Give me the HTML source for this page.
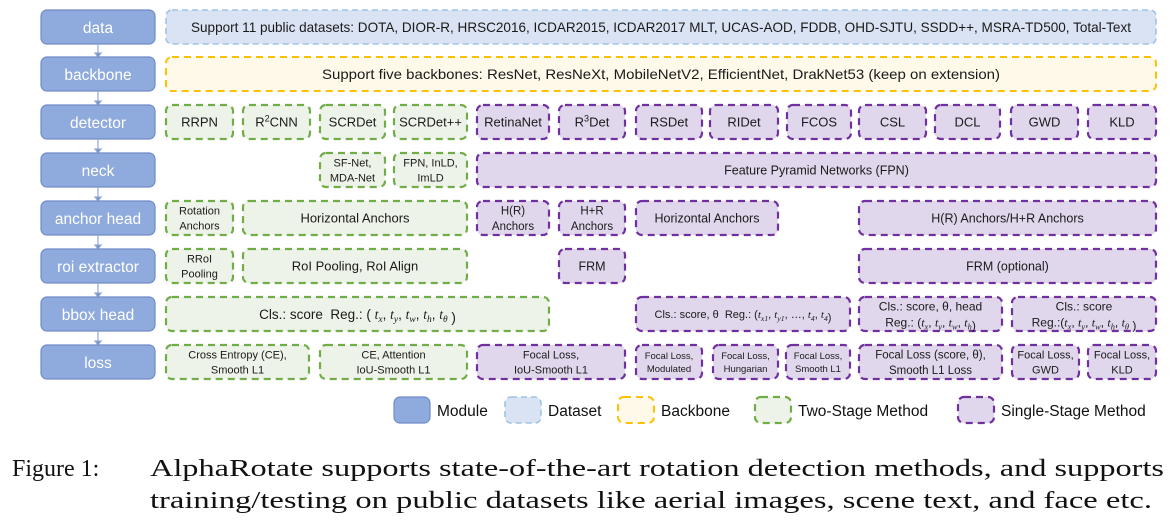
<!DOCTYPE html>
<html><head><meta charset="utf-8">
<style>
html,body{margin:0;padding:0;background:#fff;}
svg{display:block;}
text{font-family:"Liberation Sans",sans-serif;}
.cap{font-family:"Liberation Serif",serif;font-size:24px;fill:#111;}
.m{font-family:"Liberation Serif",serif;font-style:italic;}
</style></head>
<body>
<svg id="fig" width="1174" height="528" viewBox="0 0 1174 528" xmlns="http://www.w3.org/2000/svg">
<text class="cap" x="12" y="476">Figure 1:<tspan x="150" textLength="1014" lengthAdjust="spacingAndGlyphs">AlphaRotate supports state-of-the-art rotation detection methods, and supports</tspan></text>
<text class="cap" x="150" y="508" textLength="1002" lengthAdjust="spacingAndGlyphs">training/testing on public datasets like aerial images, scene text, and face etc.</text>
</svg>
<script>
const NS="http://www.w3.org/2000/svg";
const svg=document.getElementById('fig');
const rowTop=[10,57,105,153,201,249,297,345];
const rowH=34;
const modules=["data","backbone","detector","neck","anchor head","roi extractor","bbox head","loss"];
const styles={
 mod:{fill:"#8faadc",stroke:"#6f8cc4",dash:null,sw:1.2},
 ds:{fill:"#dae3f3",stroke:"#9dc3e6",dash:"6 4",sw:1.6},
 bb:{fill:"#fff9ea",stroke:"#ffc000",dash:"7 5",sw:2},
 g:{fill:"#edf3e8",stroke:"#70ad47",dash:"7 5",sw:2.2},
 p:{fill:"#e0d7ec",stroke:"#7030a0",dash:"7 5",sw:2.2}
};
const S="\u00a0";
function sub(a,b,tail){return '<tspan class="m">'+a+'</tspan><tspan class="m" font-size="70%" dy="3">'+b+'</tspan><tspan dy="-3">'+tail+'</tspan>';}
const tx=sub('t','x',','+S), ty=sub('t','y',','+S), tw=sub('t','w',','+S), th=sub('t','h',''), tth=sub('t','h',','+S), tt=sub('t','θ','');
const boxes=[
 [166,1156,0,"ds",["Support 11 public datasets: DOTA, DIOR-R, HRSC2016, ICDAR2015, ICDAR2017 MLT, UCAS-AOD, FDDB, OHD-SJTU, SSDD++, MSRA-TD500, Total-Text"],14,"dataset-box",940],
 [166,1156,1,"bb",["Support five backbones: ResNet, ResNeXt, MobileNetV2, EfficientNet, DrakNet53 (keep on extension)"],14,"backbone-box",678],
 [166,233,2,"g",["RRPN"],13,"rrpn"],
 [243,310,2,"g",['R<tspan font-size="70%" dy="-5">2</tspan><tspan dy="5">CNN</tspan>'],13,"r2cnn"],
 [320,385,2,"g",["SCRDet"],13,"scrdet"],
 [394,467,2,"g",["SCRDet++"],13,"scrdet-plus"],
 [477,549,2,"p",["RetinaNet"],13,"retinanet"],
 [559,625,2,"p",['R<tspan font-size="70%" dy="-5">3</tspan><tspan dy="5">Det</tspan>'],13,"r3det"],
 [636,702,2,"p",["RSDet"],13,"rsdet"],
 [710,778,2,"p",["RIDet"],13,"ridet"],
 [787,851,2,"p",["FCOS"],13,"fcos"],
 [859,926,2,"p",["CSL"],13,"csl"],
 [935,1000,2,"p",["DCL"],13,"dcl"],
 [1011,1078,2,"p",["GWD"],13,"gwd"],
 [1088,1156,2,"p",["KLD"],13,"kld"],
 [320,385,3,"g",["SF-Net,","MDA-Net"],11,"sf-net"],
 [394,467,3,"g",["FPN, InLD,","ImLD"],11,"fpn-inld"],
 [477,1156,3,"p",["Feature Pyramid Networks (FPN)"],12.5,"fpn-neck"],
 [166,233,4,"g",["Rotation","Anchors"],11,"rotation-anchors"],
 [243,467,4,"g",["Horizontal Anchors"],13,"horizontal-anchors-two-stage"],
 [477,549,4,"p",["H(R)","Anchors"],11.5,"hr-anchors"],
 [559,625,4,"p",["H+R","Anchors"],11.5,"h-plus-r-anchors"],
 [636,778,4,"p",["Horizontal Anchors"],12.5,"horizontal-anchors-single"],
 [859,1156,4,"p",["H(R) Anchors/H+R Anchors"],12.5,"hr-hplusr-anchors"],
 [166,233,5,"g",["RRoI","Pooling"],11,"rroi-pooling"],
 [243,467,5,"g",["RoI Pooling, RoI Align"],13,"roi-pooling-align"],
 [559,625,5,"p",["FRM"],12.5,"frm"],
 [859,1156,5,"p",["FRM (optional)"],12.5,"frm-optional"],
 [166,549,6,"g",["Cls.: score"+S+S+"Reg.: ("+S+tx+ty+tw+tth+tt+S+")"],13.5,"bbox-head-two-stage"],
 [636,850,6,"p",["Cls.: score, θ"+S+S+"Reg.: ("+sub('t','x1',','+S)+sub('t','y1',','+S+'…,'+S)+sub('t','4',','+S)+sub('t','4','')+")"],11,"bbox-head-quad"],
 [859,1002,6,"p",["Cls.: score, θ, head","Reg.: ("+tx+ty+tw+th+")"],12,"bbox-head-csl"],
 [1012,1156,6,"p",["Cls.: score","Reg.:("+tx+ty+tw+tth+tt+S+")"],12,"bbox-head-gwd"],
 [166,309,7,"g",["Cross Entropy (CE),","Smooth L1"],11,"loss-ce"],
 [320,467,7,"g",["CE, Attention","IoU-Smooth L1"],11,"loss-ce-attention"],
 [477,625,7,"p",["Focal Loss,","IoU-Smooth L1"],11,"loss-focal-iou"],
 [636,702,7,"p",["Focal Loss,","Modulated"],9.5,"loss-modulated"],
 [713,778,7,"p",["Focal Loss,","Hungarian"],9.5,"loss-hungarian"],
 [786,850,7,"p",["Focal Loss,","Smooth L1"],9.5,"loss-smooth"],
 [859,1002,7,"p",["Focal Loss (score, θ),","Smooth L1 Loss"],11.5,"loss-focal-score"],
 [1012,1079,7,"p",["Focal Loss,","GWD"],11,"loss-gwd"],
 [1088,1156,7,"p",["Focal Loss,","KLD"],11,"loss-kld"]
];
const legend=[[394,"mod","Module"],[505,"ds","Dataset"],[618,"bb","Backbone"],[755,"g","Two-Stage Method"],[958,"p","Single-Stage Method"]];

function rect(x,y,w,h,st){
 const r=document.createElementNS(NS,'rect');
 r.setAttribute('x',x);r.setAttribute('y',y);r.setAttribute('width',w);r.setAttribute('height',h);
 r.setAttribute('rx',6);r.setAttribute('fill',st.fill);r.setAttribute('stroke',st.stroke);r.setAttribute('stroke-width',st.sw);
 if(st.dash) r.setAttribute('stroke-dasharray',st.dash);
 return r;
}
modules.forEach((m,i)=>{
 const g=document.createElementNS(NS,'g');
 
 
 g.appendChild(rect(41,rowTop[i],114,rowH,styles.mod));
 const t=document.createElementNS(NS,'text');
 t.setAttribute('x',98);t.setAttribute('y',rowTop[i]+rowH/2+6);t.setAttribute('text-anchor','middle');
 t.setAttribute('font-size',15.5);t.setAttribute('fill','#fff');t.textContent=m;
 g.appendChild(t);
 svg.appendChild(g);
 if(i<modules.length-1){
  const a=document.createElementNS(NS,'path');
  const y1=rowTop[i]+rowH, y2=rowTop[i+1];
  a.setAttribute('d','M98 '+y1+' L98 '+(y2-3)+' M95 '+(y2-4)+' L101 '+(y2-4)+' L98 '+y2+' Z');
  a.setAttribute('stroke','#8faadc');a.setAttribute('fill','#6f8cc4');a.setAttribute('stroke-width',1.2);
  
  
  svg.appendChild(a);
 }
});
boxes.forEach(b=>{
 const [x1,x2,row,type,lines,fs,name,tl]=b;
 const g=document.createElementNS(NS,'g');
 
 
 const y=rowTop[row];
 g.appendChild(rect(x1,y,x2-x1,rowH,styles[type]));
 const cx=(x1+x2)/2, cy=y+rowH/2;
 lines.forEach((ln,k)=>{
  const t=document.createElementNS(NS,'text');
  const off=lines.length===1?fs*0.36:(k===0?-fs*0.3:fs*1.05);
  t.setAttribute('x',cx);t.setAttribute('y',cy+off);t.setAttribute('text-anchor','middle');
  t.setAttribute('font-size',fs);t.setAttribute('fill','#1a1a1a');
  if(tl){t.setAttribute('textLength',tl);t.setAttribute('lengthAdjust','spacingAndGlyphs');}
  t.innerHTML=ln;
  g.appendChild(t);
 });
 svg.appendChild(g);
});
legend.forEach(l=>{
 const g=document.createElementNS(NS,'g');
 
 
 g.appendChild(rect(l[0],397,36,26,styles[l[1]]));
 const t=document.createElementNS(NS,'text');
 t.setAttribute('x',l[0]+43);t.setAttribute('y',416);t.setAttribute('font-size',15.5);t.setAttribute('fill','#111');
 t.textContent=l[2];
 g.appendChild(t);
 svg.appendChild(g);
});
</script>
</body></html>
